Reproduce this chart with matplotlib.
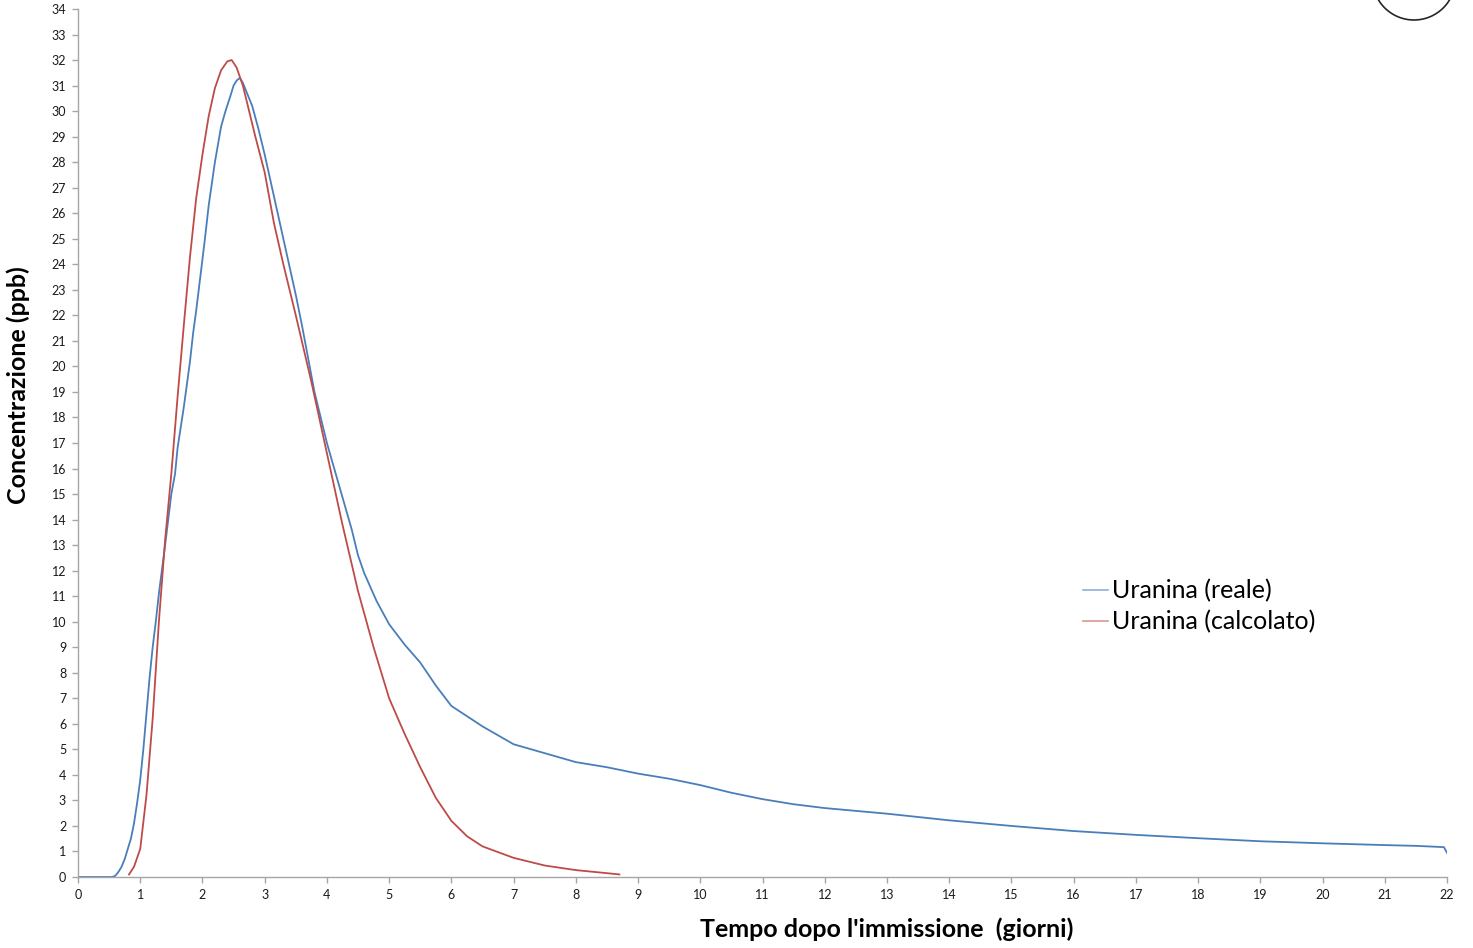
import matplotlib
matplotlib.use("Agg")
import matplotlib.pyplot as plt
from matplotlib.patches import Ellipse
from matplotlib.lines import Line2D

# Dati (giorni, ppb)
giorni_reale = [0.0, 0.55, 0.6, 0.65, 0.7, 0.75, 0.8, 0.85, 0.9, 0.95, 1.0, 1.05, 1.1, 1.15,
                1.2, 1.25, 1.3, 1.4, 1.5, 1.56, 1.6, 1.7, 1.8, 1.85, 1.9, 2.0, 2.04, 2.1,
                2.2, 2.3, 2.37, 2.45, 2.5, 2.55, 2.6, 2.65, 2.7, 2.8, 2.9, 3.0, 3.1, 3.2,
                3.3, 3.4, 3.5, 3.6, 3.7, 3.8, 3.9, 4.0, 4.2, 4.4, 4.5, 4.6, 4.8, 5.0, 5.25,
                5.5, 5.75, 6.0, 6.5, 7.0, 7.5, 8.0, 8.5, 9.0, 9.5, 10.0, 10.5, 11.0, 11.5,
                12.0, 13.0, 14.0, 15.0, 16.0, 17.0, 18.0, 19.0, 20.0, 21.0, 21.5, 21.95, 22.0]
conc_reale = [0.0, 0.0, 0.05, 0.2, 0.4, 0.7, 1.1, 1.5, 2.1, 2.9, 3.8, 5.0, 6.4, 7.8,
              9.0, 10.0, 11.1, 13.0, 15.0, 15.8, 16.8, 18.4, 20.2, 21.3, 22.2, 24.2, 25.0, 26.3,
              28.0, 29.4, 30.0, 30.6, 31.0, 31.2, 31.3, 31.1, 30.8, 30.2, 29.3, 28.3, 27.2, 26.1,
              25.0, 23.9, 22.8, 21.6, 20.3, 19.0, 18.0, 17.0, 15.3, 13.6, 12.6, 11.9, 10.8, 9.9, 9.1,
              8.4, 7.5, 6.7, 5.9, 5.2, 4.85, 4.5, 4.3, 4.05, 3.85, 3.6, 3.3, 3.05, 2.85,
              2.7, 2.48, 2.22, 2.0, 1.8, 1.65, 1.52, 1.4, 1.32, 1.25, 1.22, 1.17, 0.95]

giorni_calc = [0.82, 0.9, 1.0, 1.1, 1.2, 1.3, 1.4, 1.5, 1.6, 1.7, 1.8, 1.9, 2.0, 2.1, 2.2,
               2.3, 2.4, 2.47, 2.55, 2.65, 2.75, 2.85, 3.0, 3.15, 3.3, 3.5, 3.75, 4.0, 4.25,
               4.5, 4.75, 5.0, 5.25, 5.5, 5.75, 6.0, 6.25, 6.5, 7.0, 7.5, 8.0, 8.5, 8.7]
conc_calc = [0.1, 0.4, 1.1, 3.2, 6.2, 10.0, 13.2, 15.8, 18.8, 21.6, 24.3, 26.6, 28.3, 29.8, 30.9,
             31.6, 31.95, 32.0, 31.7, 31.0, 30.0, 29.0, 27.6, 25.6, 24.0, 22.0, 19.4, 16.6, 13.8,
             11.2, 9.0, 7.0, 5.6, 4.3, 3.1, 2.2, 1.6, 1.2, 0.75, 0.45, 0.27, 0.15, 0.1]

tick_x = list(range(0, 23))
tick_y = list(range(0, 35))
etichette = ["Uranina (reale)", "Uranina (calcolato)"]

colore_reale = "#4a7ebb"
colore_calc = "#be4b48"
grigio = "#a6a6a6"

plt.rcParams['font.family'] = ['Lato', 'DejaVu Sans']

fig = plt.figure(figsize=(14.73, 9.48), dpi=100)
ax = fig.add_axes([78 / 1473, 1 - 877 / 948, 1369 / 1473, 868 / 948])

ax.plot(giorni_reale, conc_reale, color=colore_reale, lw=1.3)
ax.plot(giorni_calc, conc_calc, color=colore_calc, lw=1.3)

ax.set_xlim(0, 22)
ax.set_ylim(0, 34)
ax.set_xticks(tick_x)
ax.set_yticks(tick_y)
ax.tick_params(axis='both', labelsize=9, color=grigio, length=4.5, width=1,
               direction='out', pad=4, labelcolor="#1a1a1a")

for lato in ['top', 'right']:
    ax.spines[lato].set_visible(False)
for lato in ['left', 'bottom']:
    ax.spines[lato].set_color(grigio)
    ax.spines[lato].set_linewidth(1)

ax.set_xlabel("Tempo dopo l'immissione  (giorni)", fontsize=18, fontweight='bold')
ax.xaxis.set_label_coords((887 - 78) / 1369, -0.046)
ax.set_ylabel("Concentrazione (ppb)", fontsize=18, fontweight='bold')
ax.yaxis.set_label_coords(-0.035, (877 - 385) / 868)

# Legenda con linee più chiare
maniglie = [Line2D([], [], color="#8eb0dc", lw=1.2), Line2D([], [], color="#db9694", lw=1.2)]
ax.legend(maniglie, etichette, loc='upper left',
          bbox_to_anchor=((1083 - 78) / 1369, (877 - 579) / 868), frameon=False,
          fontsize=18, handlelength=1.0, handletextpad=0.15, labelspacing=0.32, borderpad=0,
          borderaxespad=0)

# Cerchio tagliato in alto a destra
fig.add_artist(Ellipse((1414 / 1473, 1 + 21.5 / 948), 83 / 1473, 83 / 948,
                       transform=fig.transFigure, fill=False, edgecolor="#262626", lw=1.2))

fig.savefig("out.png", dpi=100)
